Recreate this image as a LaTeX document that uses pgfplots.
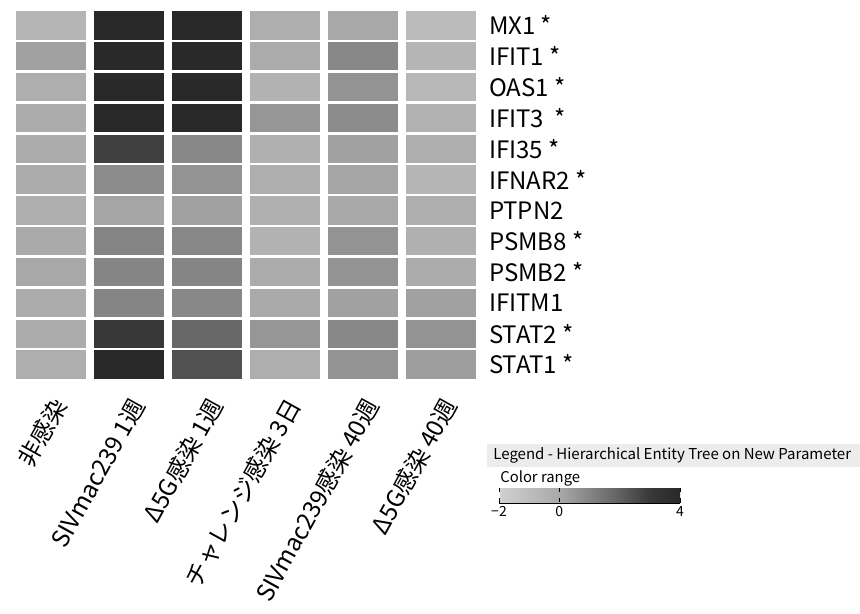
\documentclass[border=0pt]{standalone}
\usepackage{fontspec}
\setmainfont{Noto Sans CJK JP}
\usepackage{pgfplots}
\pgfplotsset{compat=1.18}
\pgfdeclareplotmark{cell}{\pgfpathrectangle{\pgfpoint{-17.5pt}{-7.1pt}}{\pgfpoint{35pt}{14.2pt}}\pgfusepathqfill}
\begin{document}
\begin{tikzpicture}
\begin{axis}[
  at={(6pt,113pt)}, anchor=south west,
  scale only axis, width=234pt, height=185pt,
  xmin=-0.5, xmax=5.5, ymin=0.5, ymax=12.5, y dir=reverse,
  axis line style={draw=none}, major tick length=0pt,
  xtick={0,...,5},
  xticklabels={非感染, SIVmac239 1週, Δ5G感染 1週, チャレンジ感染 3日, SIVmac239感染 40週, Δ5G感染 40週},
  ytick={1,...,12},
  yticklabels={MX1 *, IFIT1 *, OAS1 *, IFIT3 \ *, IFI35 *, IFNAR2 *, PTPN2, PSMB8 *, PSMB2 *, IFITM1, STAT2 *, STAT1 *},
  yticklabel pos=right,
  yticklabel style={anchor=west, font=\fontsize{12}{12}\selectfont, xshift=1pt},
  xticklabel style={rotate=61, anchor=east, font=\fontsize{12}{12}\selectfont, xshift=-3.5pt, yshift=-9pt},
  colormap={hm}{gray(0cm)=(0.82); gray(2cm)=(0.66); gray(4cm)=(0.38); gray(5cm)=(0.22); gray(6cm)=(0.16)},
  point meta min=-2, point meta max=4,
  colorbar horizontal,
  colorbar style={
    at={(parent axis.south west)}, anchor=south west, xshift=243.5pt, yshift=-52.5pt,
    scale only axis, width=90.5pt, height=7pt,
    xtick={-2,0,4}, xticklabels={−2,0,4},
    xticklabel style={font=\fontsize{7}{7}\selectfont, inner sep=1pt, yshift=-1pt},
    axis line style={draw=none},
    major tick length=2pt,
    xtick style={draw=black, thin},
  },
]
\addplot[scatter, only marks, mark=cell, scatter src=explicit,
  scatter/use mapped color={draw=none, fill=mapped color}]
  table[x=x, y=y, meta=v] {
x y v
0 1 -0.6
0 2 0.2
0 3 -0.3
0 4 -0.2
0 5 -0.2
0 6 -0.2
0 7 -0.3
0 8 -0.1
0 9 0.0
0 10 -0.2
0 11 -0.2
0 12 -0.3
1 1 4.0
1 2 4.0
1 3 4.0
1 4 4.0
1 5 2.8
1 6 0.8
1 7 0.1
1 8 1.0
1 9 1.0
1 10 1.0
1 11 3.0
1 12 4.0
2 1 4.0
2 2 4.0
2 3 4.0
2 4 4.0
2 5 0.9
2 6 0.6
2 7 0.2
2 8 0.9
2 9 1.0
2 10 0.9
2 11 1.8
2 12 2.4
3 1 -0.3
3 2 -0.2
3 3 -0.5
3 4 0.5
3 5 -0.4
3 6 -0.3
3 7 -0.4
3 8 -0.5
3 9 -0.2
3 10 -0.1
3 11 0.5
3 12 -0.3
4 1 0.0
4 2 0.9
4 3 0.6
4 4 0.8
4 5 0.2
4 6 0.1
4 7 0.0
4 8 0.6
4 9 0.6
4 10 0.2
4 11 0.9
4 12 0.6
5 1 -0.9
5 2 -0.6
5 3 -0.7
5 4 -0.5
5 5 -0.3
5 6 -0.6
5 7 -0.3
5 8 -0.4
5 9 -0.2
5 10 0.2
5 11 0.6
5 12 0.3
};
\end{axis}
\fill[gray!15] (243.5pt,69.5pt) rectangle (430pt,81pt);
\node[anchor=west, font=\fontsize{7.5}{8}\selectfont, inner sep=0pt] at (246.5pt,75.2pt) {Legend - Hierarchical Entity Tree on New Parameter};
\node[anchor=west, font=\fontsize{7.4}{8}\selectfont, inner sep=0pt] at (250pt,64pt) {Color range};
\draw[thin] (249.5pt,51.5pt) -- (340pt,51.5pt);
\draw[thin] (249.5pt,51.5pt) -- (249.5pt,53pt) (340pt,51.5pt) -- (340pt,53pt);
\path[use as bounding box] (0,0) rectangle (430pt,303pt);
\end{tikzpicture}
\end{document}
